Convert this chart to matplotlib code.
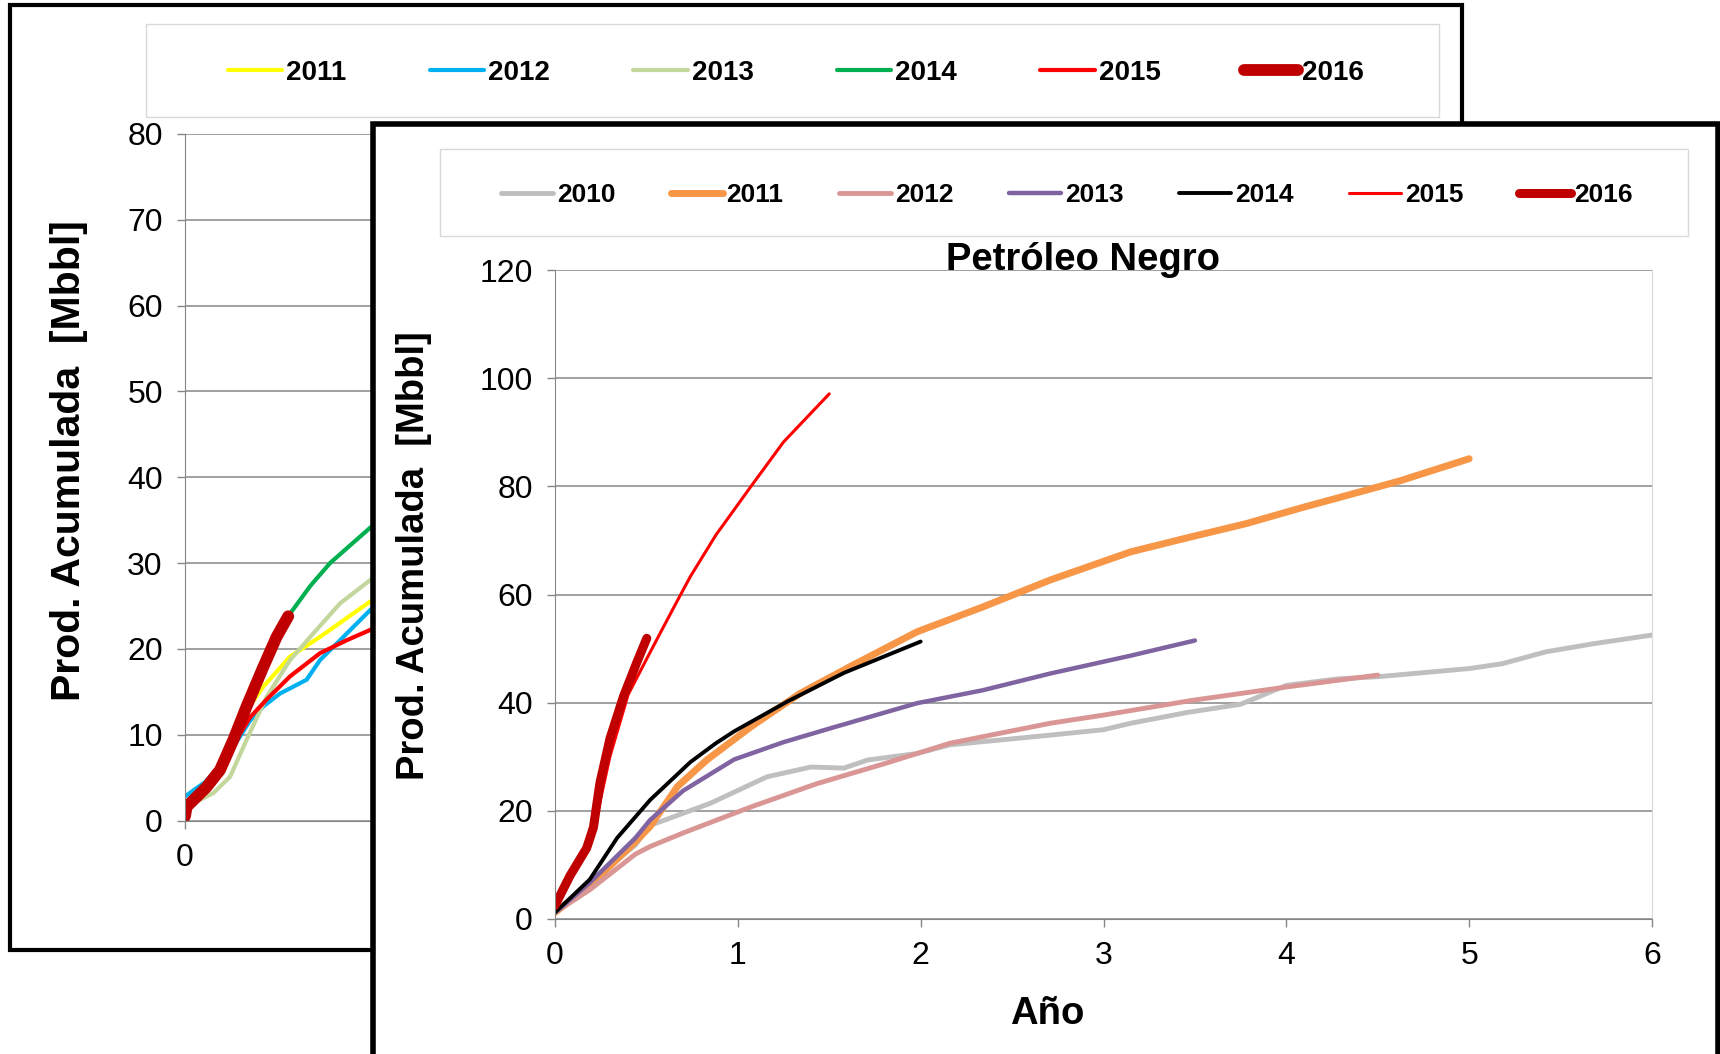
import matplotlib
matplotlib.use("Agg")
import matplotlib.pyplot as plt
from matplotlib.patches import Rectangle

# ---- back chart (partly hidden) ----
back_years = ["2011", "2012", "2013", "2014", "2015", "2016"]
back_colors = ["#FFFF00", "#00B0F0", "#C3D69B", "#00B050", "#FF0000", "#C00000"]
back_widths = [3, 3, 3, 3, 3, 8.5]

b2011_x = [0, 0.1, 0.2, 0.302, 0.384, 0.515, 0.662, 0.907, 1.0]
b2011_y = [1.5, 4.0, 7.0, 12.8, 15.6, 19.1, 21.4, 25.5, 27]
b2012_x = [0, 0.1, 0.2, 0.318, 0.384, 0.466, 0.596, 0.662, 0.76, 0.907, 1.0]
b2012_y = [2.8, 4.5, 7.2, 11.6, 13.3, 14.8, 16.4, 18.7, 21.0, 24.5, 26.5]
b2013_x = [0, 0.139, 0.221, 0.302, 0.4, 0.515, 0.629, 0.76, 0.907, 1.0]
b2013_y = [1.5, 3.2, 5.1, 9.4, 14.4, 18.7, 21.8, 25.3, 28.0, 29.5]
b2014_x = [0, 0.1, 0.2, 0.3, 0.4, 0.515, 0.613, 0.711, 0.907, 1.0]
b2014_y = [1, 3.8, 7.4, 13, 18.5, 24.1, 27.3, 30.0, 34.1, 35.8]
b2015_x = [0, 0.1, 0.2, 0.318, 0.4, 0.515, 0.662, 0.792, 0.907, 1.0]
b2015_y = [1, 3.8, 7.4, 12.0, 14.1, 16.8, 19.5, 21.0, 22.2, 23.2]
b2016_x = [0, 0.008, 0.106, 0.172, 0.237, 0.302, 0.384, 0.449, 0.506]
b2016_y = [0.5, 1.6, 3.9, 5.9, 9.4, 13.3, 17.9, 21.4, 23.8]
back_series = [(b2011_x, b2011_y), (b2012_x, b2012_y), (b2013_x, b2013_y),
               (b2014_x, b2014_y), (b2015_x, b2015_y), (b2016_x, b2016_y)]
back_yticks = list(range(0, 81, 10))
back_xticks = list(range(0, 7))

# ---- front chart: Petróleo Negro ----
front_years = ["2010", "2011", "2012", "2013", "2014", "2015", "2016"]
front_colors = ["#BFBFBF", "#F79646", "#D99694", "#8064A2", "#000000", "#FF0000", "#C00000"]
front_widths = [3.5, 5, 3.5, 3.2, 2.8, 2.2, 6.5]

f2010_x = [0, 0.19, 0.44, 0.52, 0.85, 1.16, 1.40, 1.58, 1.71, 1.98, 2.16, 2.71, 3.0, 3.15,
           3.46, 3.75, 4.0, 4.28, 4.5, 5.0, 5.18, 5.42, 5.68, 6.0]
f2010_y = [1.2, 6.7, 13.7, 17.3, 21.4, 26.3, 28.1, 27.9, 29.4, 30.6, 32.2, 34.0, 35.0, 36.2,
           38.2, 39.7, 43.2, 44.4, 44.8, 46.3, 47.2, 49.4, 50.9, 52.5]
f2011_x = [0, 0.19, 0.44, 0.52, 0.67, 0.83, 1.07, 1.34, 1.61, 1.98, 2.34, 2.71, 3.15, 3.46,
           3.78, 4.09, 4.34, 4.62, 5.0]
f2011_y = [1.2, 6.2, 14.3, 17.1, 24.5, 29.4, 35.5, 41.7, 46.6, 53.1, 57.7, 62.7, 67.9, 70.5,
           73.1, 76.1, 78.4, 81.0, 85.1]
f2012_x = [0, 0.19, 0.44, 0.52, 0.70, 1.07, 1.43, 1.80, 2.16, 2.71, 3.0, 3.48, 4.0, 4.5]
f2012_y = [1.2, 5.4, 12.0, 13.4, 15.9, 20.7, 25.0, 28.7, 32.5, 36.2, 37.7, 40.4, 42.9, 45.1]
f2013_x = [0, 0.19, 0.44, 0.52, 0.70, 0.98, 1.25, 1.52, 1.98, 2.34, 2.71, 3.15, 3.5]
f2013_y = [1.2, 6.7, 15.0, 18.3, 23.7, 29.5, 32.7, 35.4, 39.9, 42.3, 45.4, 48.7, 51.5]
f2014_x = [0, 0.19, 0.34, 0.52, 0.74, 0.88, 0.98, 1.27, 1.58, 2.0]
f2014_y = [1.2, 7.3, 15.0, 22.0, 29.0, 32.5, 34.7, 40.2, 45.5, 51.3]
f2015_x = [0, 0.1, 0.2, 0.3, 0.4, 0.52, 0.59, 0.67, 0.74, 0.88, 1.07, 1.25, 1.5]
f2015_y = [3.0, 8.5, 14.5, 30, 41.5, 49.3, 53.8, 58.9, 63.3, 71.0, 79.9, 88.2, 97.1]
f2016_x = [0, 0.082, 0.173, 0.21, 0.246, 0.301, 0.374, 0.447, 0.502]
f2016_y = [2.5, 8.0, 13.1, 16.9, 25.2, 33.4, 41.1, 47.4, 51.9]
front_series = [(f2010_x, f2010_y), (f2011_x, f2011_y), (f2012_x, f2012_y), (f2013_x, f2013_y),
                (f2014_x, f2014_y), (f2015_x, f2015_y), (f2016_x, f2016_y)]
front_yticks = list(range(0, 121, 20))
front_xticks = list(range(0, 7))

W, H = 1720, 1054
fig = plt.figure(figsize=(W / 100, H / 100), dpi=100)


def fx(x):
    return x / W


def fy(y):
    return 1 - y / H


def axes_rect(left, top, right, bottom):
    return [fx(left), fy(bottom), (right - left) / W, (bottom - top) / H]


def box(left, top, right, bottom, **kw):
    r = Rectangle((fx(left), fy(bottom)), (right - left) / W, (bottom - top) / H,
                  transform=fig.transFigure, **kw)
    fig.add_artist(r)


tick_font = ["Liberation Sans", "DejaVu Sans"]
bold_font = ["Liberation Sans", "DejaVu Sans"]
grid_c = "#868686"


def style_axes(ax, xticks, yticks, xmax, ymax):
    ax.set_xlim(0, xmax)
    ax.set_ylim(0, ymax)
    ax.set_xticks(xticks)
    ax.set_yticks(yticks)
    ax.set_facecolor("none")
    ax.grid(axis="y", color=grid_c, lw=1.1)
    ax.set_axisbelow(True)
    ax.spines["top"].set_visible(False)
    ax.spines["left"].set_color(grid_c)
    ax.spines["bottom"].set_color(grid_c)
    ax.spines["right"].set_color("#D9D9D9")
    ax.tick_params(direction="out", length=6, width=1, color=grid_c, labelsize=23, pad=10)
    for lab in ax.get_xticklabels() + ax.get_yticklabels():
        lab.set_family(tick_font)


# back panel
box(10, 5, 1462, 950, fc="white", ec="black", lw=3, zorder=0.5)
box(146, 24, 1439, 117, fc="white", ec="#D9D9D9", lw=1, zorder=0.6)
axb = fig.add_axes(axes_rect(185, 134, 1409, 820.5), zorder=1)
for (xs, ys), name, c, w in zip(back_series, back_years, back_colors, back_widths):
    axb.plot(xs, ys, color=c, lw=w, label=name, solid_capstyle="round", solid_joinstyle="round")
style_axes(axb, back_xticks, back_yticks, 6, 80)
axb.legend(ncol=6, loc="center", bbox_to_anchor=(fx(796), fy(73)), bbox_transform=fig.transFigure,
           frameon=False, prop=dict(family=bold_font, weight="bold", size=20),
           handlelength=1.95, handletextpad=0.15, columnspacing=3.0)
axb.text(fx(69), fy(461), "Prod. Acumulada  [Mbbl]", transform=fig.transFigure, rotation=90,
         ha="center", va="center", fontsize=29.5, fontweight="bold", family=bold_font)

# front panel
box(373, 124, 1718, 1070, fc="white", ec="black", lw=4, zorder=2)
box(440, 149, 1688, 236, fc="white", ec="#D9D9D9", lw=1, zorder=2.1)
axf = fig.add_axes(axes_rect(555, 270, 1652, 919), zorder=3)
for (xs, ys), name, c, w in zip(front_series, front_years, front_colors, front_widths):
    axf.plot(xs, ys, color=c, lw=w, label=name, solid_capstyle="round", solid_joinstyle="round")
style_axes(axf, front_xticks, front_yticks, 6, 120)
axf.legend(ncol=7, loc="center", bbox_to_anchor=(fx(1067), fy(195)), bbox_transform=fig.transFigure,
           frameon=False, prop=dict(family=bold_font, weight="bold", size=19),
           handlelength=1.97, handletextpad=0.15, columnspacing=2.1)
axf.text(fx(1083), fy(260), "Petróleo Negro", transform=fig.transFigure, ha="center", va="center",
         fontsize=27.5, fontweight="bold", family=bold_font)
axf.text(fx(414), fy(556), "Prod. Acumulada  [Mbbl]", transform=fig.transFigure, rotation=90,
         ha="center", va="center", fontsize=27.5, fontweight="bold", family=bold_font)
axf.text(fx(1047), fy(1014), "Año", transform=fig.transFigure, ha="center", va="center",
         fontsize=27.5, fontweight="bold", family=bold_font)

fig.savefig("out.png", dpi=100)
